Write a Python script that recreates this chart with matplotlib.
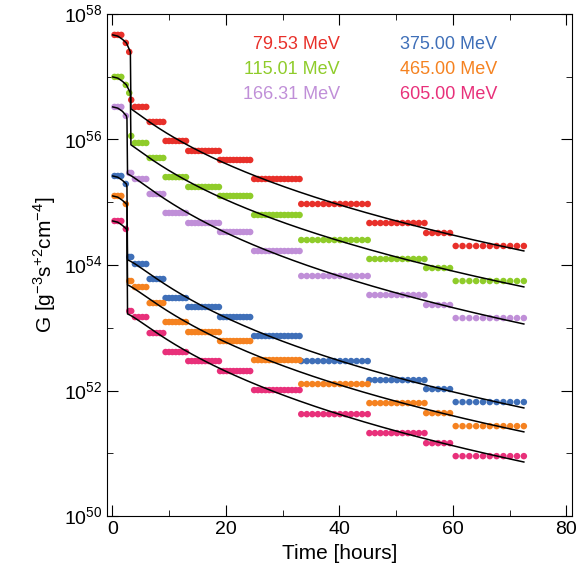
import numpy as np
import matplotlib
matplotlib.use("Agg")
from matplotlib import pyplot as plt

plt.rcParams['font.family'] = ['Liberation Sans', 'DejaVu Sans']
plt.rcParams['mathtext.fontset'] = 'custom'
plt.rcParams['mathtext.rm'] = 'Liberation Sans'

labels = ["79.53 MeV", "115.01 MeV", "166.31 MeV", "375.00 MeV", "465.00 MeV", "605.00 MeV"]
colors = ["#e8302a", "#8fcc2a", "#c08fd8", "#3f6fb8", "#f58220", "#e8307a"]

# time segments (start, end, dot spacing) in hours
seg_t = [(0.4, 1.6, 0.6), (2.4, 2.4, 1), (3.0, 3.0, 1), (3.35, 3.35, 1),
         (4.0, 6.0, 0.65), (6.6, 9.0, 0.6), (9.4, 13.0, 0.6), (13.4, 18.8, 0.6),
         (19.0, 24.3, 0.6), (25.0, 33.0, 0.65), (33.3, 45.0, 0.98), (45.3, 55.0, 0.97),
         (55.3, 59.5, 1.05), (60.5, 72.5, 1.2)]

# log10 G level of each segment
lv_red = [57.665, 57.538, 57.394, 56.63, 56.518, 56.279, 55.976, 55.817, 55.673, 55.37, 54.972, 54.669, 54.51, 54.303]
lv_green = [56.996, 56.869, 56.741, 56.056, 55.944, 55.705, 55.40, 55.243, 55.10, 54.797, 54.398, 54.096, 53.952, 53.745]
lv_purple = [56.518, 56.375, 55.466, 55.466, 55.37, 55.131, 54.829, 54.669, 54.526, 54.223, 53.825, 53.522, 53.363, 53.155]
lv_blue = [55.418, 55.291, 54.128, 54.128, 54.016, 53.777, 53.474, 53.331, 53.171, 52.869, 52.47, 52.167, 52.024, 51.817]
lv_orange = [55.10, 54.972, 53.745, 53.745, 53.649, 53.394, 53.092, 52.932, 52.789, 52.486, 52.104, 51.801, 51.641, 51.434]
lv_pink = [54.701, 54.574, 53.267, 53.267, 53.171, 52.916, 52.614, 52.47, 52.311, 52.008, 51.625, 51.323, 51.163, 50.956]
levels = [lv_red, lv_green, lv_purple, lv_blue, lv_orange, lv_pink]

# fitted curves: time of steep drop and decay knots
drop_t = [3.3, 3.3, 2.7, 2.7, 2.7, 2.7]
knot_t = [9, 20, 30, 47, 72.5]
cv_red = [56.486, 56.151, 55.562, 55.307, 54.765, 54.223]
cv_green = [55.912, 55.578, 54.988, 54.733, 54.191, 53.65]
cv_purple = [55.45, 55.084, 54.462, 54.191, 53.618, 53.06]
cv_blue = [54.08, 53.729, 53.108, 52.837, 52.279, 51.721]
cv_orange = [53.681, 53.331, 52.709, 52.454, 51.896, 51.339]
cv_pink = [53.219, 52.869, 52.247, 51.992, 51.418, 50.861]
curves = [cv_red, cv_green, cv_purple, cv_blue, cv_orange, cv_pink]

fig = plt.figure(figsize=(5.82, 5.78), dpi=100)
ax = fig.add_axes([0.184, 0.107, 0.799, 0.869])

for lv, cv, dt, c in zip(levels, curves, drop_t, colors):
    xs, ys = [], []
    for (a, b, step), v in zip(seg_t, lv):
        n = int(round((b - a) / step)) + 1
        tt = np.linspace(a, b, n)
        xs += list(tt)
        ys += [10 ** v] * n
    ax.scatter(xs, ys, s=22, color=c, edgecolors='none', zorder=2)

    # early part of curve, then drop, then decay
    pre_t = [0.1, 1.0, 1.8, 2.5, dt - 0.1]
    pre_v = [lv[0], lv[0] - 0.02, lv[0] - 0.07, lv[1], lv[2] if dt > 3 else lv[1] - 0.05]
    tk = np.array([dt] + knot_t)
    p = np.polyfit(np.log(tk), np.array(cv), 3)
    tf = np.linspace(dt, 72.5, 200)
    ft = list(pre_t) + list(tf)
    fv = list(pre_v) + list(np.polyval(p, np.log(tf)))
    ax.plot(ft, 10 ** np.array(fv), color='black', lw=1.1, zorder=3)

ax.set_yscale('log')
ax.set_xlim(-0.9, 81)
ax.set_ylim(1e50, 1e58)
ax.set_xticks([0, 20, 40, 60, 80])
ax.set_xticks(np.arange(0, 81, 10), minor=True)
ax.set_yticks([1e50, 1e52, 1e54, 1e56, 1e58])
ax.set_yticks([1e51, 1e53, 1e55, 1e57], minor=True)
ax.set_yticklabels([r'$10^{50}$', r'$10^{52}$', r'$10^{54}$', r'$10^{56}$', r'$10^{58}$'], minor=False)
ax.set_yticklabels([], minor=True)
ax.tick_params(which='both', direction='in', top=True, right=True, labelsize=14)
ax.tick_params(which='major', length=8)
ax.tick_params(which='minor', length=4)
ax.set_xlabel('Time [hours]', fontsize=15)
ax.set_ylabel(r'G [g$^{-3}$s$^{+2}$cm$^{-4}$]', fontsize=15)

legend_x = [40.1, 40.1, 40.1, 67.8, 67.8, 67.8]
legend_y = [57.52, 57.12, 56.72, 57.52, 57.12, 56.72]
for lab, c, lx, ly in zip(labels, colors, legend_x, legend_y):
    ax.text(lx, 10 ** ly, lab, color=c, fontsize=13, ha='right', va='center')

fig.savefig('out.png', dpi=100)
